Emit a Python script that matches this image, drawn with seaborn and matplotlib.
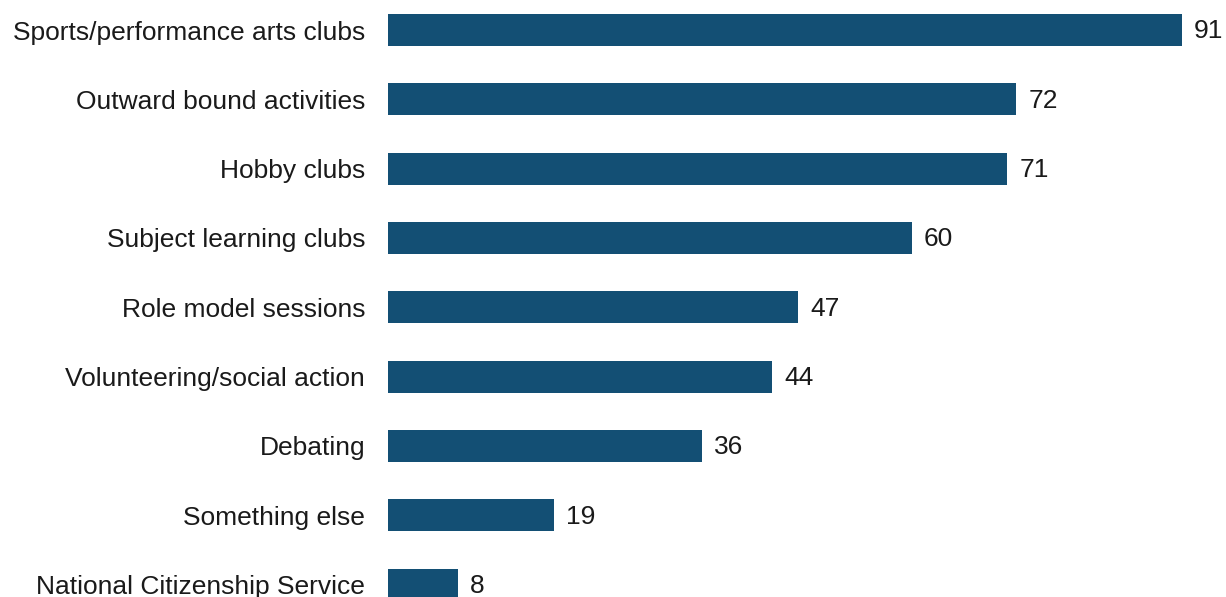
import matplotlib
matplotlib.use("Agg")
import matplotlib.pyplot as plt
import seaborn as sns
import pandas as pd

categories = [
    "Sports/performance arts clubs",
    "Outward bound activities",
    "Hobby clubs",
    "Subject learning clubs",
    "Role model sessions",
    "Volunteering/social action",
    "Debating",
    "Something else",
    "National Citizenship Service",
]
values = [91, 72, 71, 60, 47, 44, 36, 19, 8]

df = pd.DataFrame({"activity": categories, "pct": values})

sns.set_style("white")
plt.rcParams["font.family"] = ["Liberation Sans", "DejaVu Sans"]

W, H = 1226, 597
fig = plt.figure(figsize=(W / 100, H / 100), dpi=100)
# place axes so bars land where they sit in the reference
left_px, right_px = 388, 1182
top_px = 30 - 0.5 * 69.31
bot_px = 584.5 + 0.5 * 69.31
ax = fig.add_axes([left_px / W, (H - bot_px) / H, (right_px - left_px) / W, (bot_px - top_px) / H])

sns.barplot(data=df, x="pct", y="activity", color="#134F74", saturation=1,
            width=0.46, linewidth=0, ax=ax)

ax.set_xlim(0, 91)
ax.set_ylim(8.5, -0.5)
for i, v in enumerate(values):
    ax.text(v + 1.4, i + 0.02, str(v), va="center", ha="left", fontsize=19, color="#1a1a1a")

ax.set_xlabel("")
ax.set_ylabel("")
ax.set_xticks([])
ax.tick_params(axis="y", length=0, pad=16.5, labelsize=19, labelcolor="#1a1a1a")
sns.despine(ax=ax, left=True, bottom=True)

fig.savefig("out.png", dpi=100)
